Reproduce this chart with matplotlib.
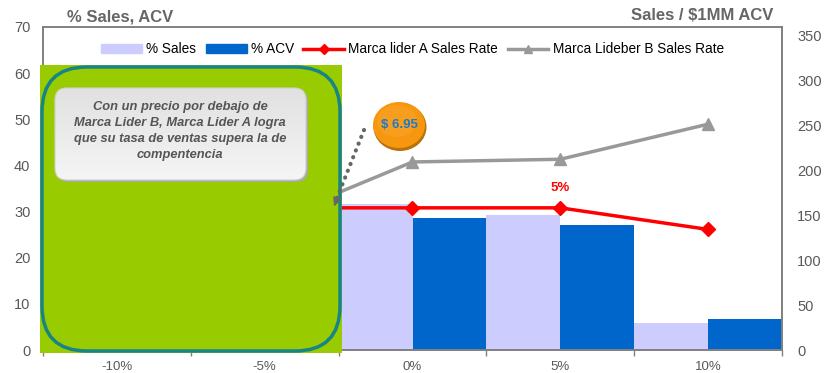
import numpy as np
import matplotlib
matplotlib.use("Agg")
import matplotlib.pyplot as plt
from matplotlib.patches import Rectangle, FancyBboxPatch, Ellipse
from matplotlib.lines import Line2D
from matplotlib.patches import Patch

plt.rcParams["font.family"] = ["Liberation Sans", "DejaVu Sans"]

# -------------------- DATOS --------------------
categories = ["-10%", "-5%", "0%", "5%", "10%"]
pct_sales = [12.0, 21.0, 31.7, 29.3, 5.9]
pct_acv = [14.0, 24.0, 28.7, 27.0, 6.7]
rate_a = [160, 158, 158, 158, 134]
rate_b = [118, 141, 209, 212, 251]

left_ticks = [0, 10, 20, 30, 40, 50, 60, 70]
right_ticks = [0, 50, 100, 150, 200, 250, 300, 350]

# colores
c_sales = "#ccccff"
c_acv = "#0066cc"
c_a = "#ff0000"
c_b = "#999999"
c_axis = "#808080"
c_text = "#595959"

W, H = 824, 373
fig = plt.figure(figsize=(W / 100, H / 100), dpi=100)
ax = fig.add_axes([43 / W, 1 - 350 / H, (782 - 43) / W, (350 - 27) / H])
ax2 = ax.twinx()

# -------------------- BARRAS --------------------
x = np.arange(len(categories))
ax.bar(x - 0.25, pct_sales, width=0.5, color=c_sales, label="% Sales", zorder=2)
ax.bar(x + 0.25, pct_acv, width=0.5, color=c_acv, label="% ACV", zorder=2)
ax.set_xlim(-0.5, len(categories) - 0.5)
ax.set_ylim(0, 70)
ax.set_yticks(left_ticks)

# -------------------- LINEAS --------------------
ax2.plot(x, rate_a, color=c_a, lw=2.5, marker="D", ms=7, label="Marca lider A Sales Rate")
ax2.plot(x, rate_b, color=c_b, lw=2.5, marker="^", ms=9, label="Marca Lideber B Sales Rate")
ax2.set_ylim(0, 359)
ax2.set_yticks(right_ticks)
ax2.annotate("5%", xy=(3, rate_a[3]), xytext=(0, 10), textcoords="offset points",
             ha="center", va="bottom", color=c_a, fontsize=9.5, fontweight="bold")

# ejes
ax.set_xticks(x)
ax.set_xticklabels(categories)
ax.set_xticks(np.arange(len(categories) + 1) - 0.5, minor=True)
ax.tick_params(axis="x", which="major", length=0, pad=8, labelsize=9.5, labelcolor=c_text)
ax.tick_params(axis="x", which="minor", length=4, width=1, color=c_axis)
ax.tick_params(axis="y", length=0, pad=9, labelsize=10.5, labelcolor=c_text)
ax2.tick_params(axis="y", length=0, pad=11, labelsize=10.5, labelcolor=c_text)
for a in (ax, ax2):
    for s in a.spines.values():
        s.set_color(c_axis)
        s.set_linewidth(1.2)

fig.text(67 / W, 1 - 17 / H, "% Sales, ACV", ha="left", va="center",
         fontsize=12, fontweight="bold", color="#666666")
fig.text(773 / W, 1 - 15 / H, "Sales / $1MM ACV", ha="right", va="center",
         fontsize=12, fontweight="bold", color="#666666")

# leyenda
handles = [
    Patch(color=c_sales, label="% Sales"),
    Patch(color=c_acv, label="% ACV"),
    Line2D([], [], color=c_a, lw=2.5, marker="D", ms=5, label="Marca lider A Sales Rate"),
    Line2D([], [], color=c_b, lw=2.5, marker="^", ms=6, label="Marca Lideber B Sales Rate"),
]
ax2.legend(handles=handles, loc="upper center", bbox_to_anchor=(0.5, 0.99), ncol=4,
           frameon=False, fontsize=9.8, handlelength=3.0, handletextpad=0.3,
           columnspacing=0.7, handleheight=0.6)

# -------------------- CAPA DE ANOTACIONES --------------------
ov = fig.add_axes([0, 0, 1, 1])
ov.set_xlim(0, W)
ov.set_ylim(H, 0)
ov.axis("off")

ov.add_patch(Rectangle((40, 65), 302, 288, facecolor="#99cc00", edgecolor="none", zorder=1))
ov.add_patch(FancyBboxPatch((42, 67), 298, 284, boxstyle="round,pad=0,rounding_size=45",
                            facecolor="none", edgecolor="#178585", lw=2.5, zorder=1))

# caja gris con degradado
ov.add_patch(FancyBboxPatch((57, 90), 251, 92, boxstyle="round,pad=0,rounding_size=12",
                            facecolor="#a9a9a9", edgecolor="none", zorder=2))
box = FancyBboxPatch((55, 88), 251, 92, boxstyle="round,pad=0,rounding_size=12",
                     facecolor="none", edgecolor="#d0d0d0", lw=0.8, zorder=4)
ov.add_patch(box)
grad = np.linspace(0.88, 0.96, 64).reshape(-1, 1)
img = ov.imshow(np.repeat(grad, 2, axis=1), cmap="gray", vmin=0, vmax=1,
                extent=(55, 306, 180, 88), aspect="auto", interpolation="bicubic", zorder=3)
img.set_clip_path(box)
ov.text(180, 131, "Con un precio por debajo de\nMarca Lider B, Marca Lider A logra\n"
        "que su tasa de ventas supera la de\ncompentencia",
        ha="center", va="center", fontsize=9.3, fontweight="bold", fontstyle="italic",
        color="#555555", linespacing=1.42, zorder=5)

# burbuja de precio
ov.add_patch(Ellipse((400, 127), 53, 48, facecolor="#b8720a", edgecolor="none", zorder=2))
ov.add_patch(Ellipse((399, 125), 52, 46, facecolor="#f7960f", edgecolor="none", zorder=3))
ov.add_patch(Ellipse((397, 121), 40, 32, facecolor="#f9a52a", edgecolor="none", alpha=0.6, zorder=3))
ov.text(399, 125, "$ 6.95", ha="center", va="center", fontsize=9.5,
        fontweight="bold", color="#1f78c8", zorder=5)

# flecha punteada
ov.plot([364, 337], [130, 198], color="#666666", lw=3, linestyle=(0, (0.05, 1.7)),
        dash_capstyle="round", zorder=4)
ov.annotate("", xy=(333, 209), xytext=(337, 199),
            arrowprops=dict(arrowstyle="-|>", color="#666666", lw=1, mutation_scale=13),
            zorder=4)

ov.set_xlim(0, W)
ov.set_ylim(H, 0)

fig.savefig("out.png", dpi=100)
